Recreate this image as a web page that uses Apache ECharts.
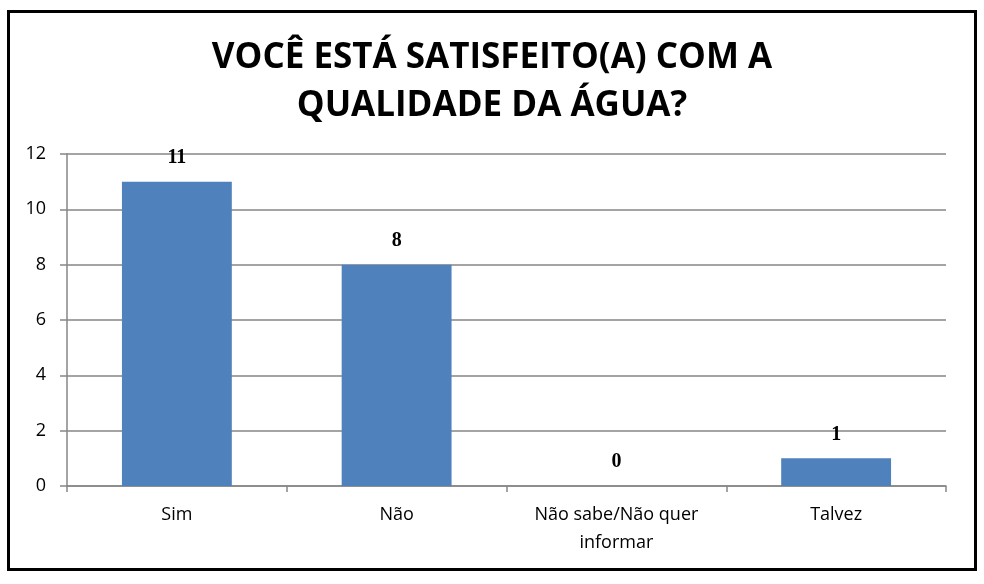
<!DOCTYPE html>
<html>
<head>
<meta charset="utf-8">
<script src="https://cdn.jsdelivr.net/npm/echarts@6/dist/echarts.min.js"></script>
<style>
html,body{margin:0;padding:0;background:#fff;}
#c{width:984px;height:584px;}
</style>
</head>
<body>
<div id="c"></div>
<script>
const titleText = 'VOCÊ ESTÁ SATISFEITO(A) COM A\nQUALIDADE DA ÁGUA?';
const categories = ['Sim', 'Não', 'Não sabe/Não quer\ninformar', 'Talvez'];
const values = [11, 8, 0, 1];
const yTicks = { min: 0, max: 12, interval: 2 };

const chart = echarts.init(document.getElementById('c'), null, { renderer: 'canvas' });
const gridColor = '#868686';
chart.setOption({
  animation: false,
  backgroundColor: '#fff',
  graphic: [{
    type: 'rect',
    shape: { x: 8.5, y: 11.5, width: 967, height: 558 },
    style: { fill: 'none', stroke: '#000', lineWidth: 3 },
    z: 100
  }],
  title: {
    text: titleText,
    left: 'center',
    top: 29,
    textStyle: {
      fontFamily: '"Open Sans", sans-serif',
      fontWeight: 'bold',
      fontSize: 35,
      lineHeight: 48,
      color: '#000'
    }
  },
  grid: { left: 67, right: 38, top: 154, bottom: 98, containLabel: false },
  xAxis: {
    type: 'category',
    data: categories,
    axisLine: { show: true, lineStyle: { color: gridColor, width: 1.5 } },
    axisTick: { show: true, length: 6, lineStyle: { color: gridColor, width: 1.5 } },
    axisLabel: {
      color: '#000',
      fontFamily: '"Open Sans", sans-serif',
      fontSize: 18,
      lineHeight: 28,
      margin: 15,
      interval: 0
    }
  },
  yAxis: {
    type: 'value',
    min: yTicks.min, max: yTicks.max, interval: yTicks.interval,
    axisLine: { show: true, lineStyle: { color: gridColor, width: 1.5 } },
    axisTick: { show: true, length: 7, lineStyle: { color: gridColor, width: 1.5 } },
    splitLine: { show: true, lineStyle: { color: gridColor, width: 1.5 } },
    axisLabel: {
      color: '#000',
      fontFamily: '"Open Sans", sans-serif',
      fontSize: 18,
      margin: 21
    }
  },
  series: [{
    type: 'bar',
    data: values,
    barWidth: '50%',
    itemStyle: { color: '#4F81BD' },
    label: {
      show: true,
      position: 'top',
      distance: 14,
      color: '#000',
      fontFamily: '"Liberation Serif", "Times New Roman", serif',
      fontWeight: 'bold',
      fontSize: 20
    }
  }]
});
</script>
</body>
</html>
